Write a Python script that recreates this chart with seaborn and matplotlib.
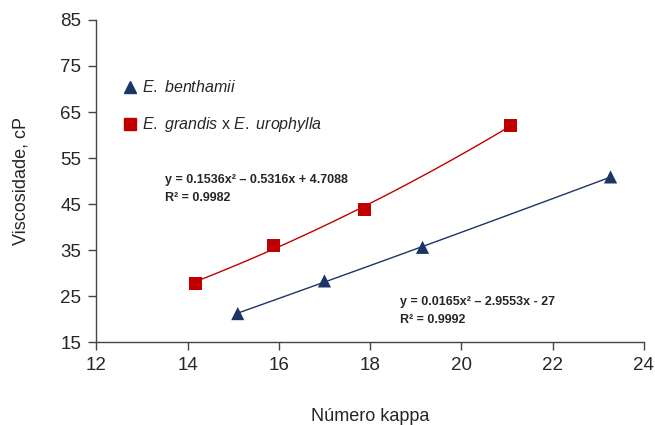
import numpy as np
import pandas as pd
import matplotlib
matplotlib.use('Agg')
import matplotlib.pyplot as plt
import seaborn as sns

# dados
kappa_benthamii = [15.1, 17.0, 19.15, 23.27]
visc_benthamii = [21.2, 28.3, 35.6, 50.9]
kappa_grandis = [14.17, 15.88, 17.87, 21.08]
visc_grandis = [27.8, 36.0, 43.9, 62.1]

eq_grandis = 'y = 0.1536x\u00b2 \u2013 0.5316x + 4.7088\nR\u00b2 = 0.9982'
eq_benthamii = 'y = 0.0165x\u00b2 \u2013 2.9553x - 27\nR\u00b2 = 0.9992'

x_ticks = [12, 14, 16, 18, 20, 22, 24]
y_ticks = [15, 25, 35, 45, 55, 65, 75, 85]

sns.set_style('ticks')
plt.rcParams['font.family'] = ['Liberation Sans', 'DejaVu Sans']
plt.rcParams['mathtext.fontset'] = 'custom'
plt.rcParams['mathtext.it'] = 'Liberation Sans:italic'
plt.rcParams['mathtext.rm'] = 'Liberation Sans'

azul = '#1b3566'
vermelho = '#c00000'

df = pd.concat([
    pd.DataFrame({'kappa': kappa_benthamii, 'visc': visc_benthamii, 'especie': 'benthamii'}),
    pd.DataFrame({'kappa': kappa_grandis, 'visc': visc_grandis, 'especie': 'grandis'}),
])

fig = plt.figure(figsize=(6.55, 4.25), dpi=100)
ax = fig.add_axes([0.147, 0.195, 0.836, 0.758])

# linhas de tendência polinomiais (ordem 2)
for xs, ys, cor in [(kappa_benthamii, visc_benthamii, azul), (kappa_grandis, visc_grandis, vermelho)]:
    coef = np.polyfit(xs, ys, 2)
    xx = np.linspace(min(xs), max(xs), 100)
    ax.plot(xx, np.polyval(coef, xx), color=cor, lw=1, zorder=1)

sns.scatterplot(data=df, x='kappa', y='visc', hue='especie', style='especie',
                markers={'benthamii': '^', 'grandis': 's'},
                palette={'benthamii': azul, 'grandis': vermelho},
                s=90, edgecolor='none', ax=ax, zorder=2, legend=False)

ax.set_xlim(12, 24)
ax.set_ylim(15, 85)
ax.set_xticks(x_ticks)
ax.set_yticks(y_ticks)
ax.tick_params(labelsize=13.5, length=6, width=1, color='#444444', direction='out', pad=5)
for s in ['left', 'bottom']:
    ax.spines[s].set_color('#444444')
    ax.spines[s].set_linewidth(1)
sns.despine(ax=ax)
ax.set_xlabel('Número kappa', fontsize=13, labelpad=24)
ax.set_ylabel('Viscosidade, cP', fontsize=13, labelpad=22)

# legenda
h1, = ax.plot([], [], '^', color=azul, ms=8, ls='none')
h2, = ax.plot([], [], 's', color=vermelho, ms=8, ls='none')
ax.legend([h1, h2], [r'$\it{E.}$ $\it{benthamii}$', r'$\it{E.}$ $\it{grandis}$ x $\it{E.}$ $\it{urophylla}$'],
          loc='upper left', bbox_to_anchor=(0.013, 0.86), frameon=False,
          fontsize=11.5, handletextpad=0.0, labelspacing=1.25, handlelength=1.5)

ax.text(13.5, 45.0, eq_grandis, fontsize=9, fontweight='bold', linespacing=1.7, va='bottom')
ax.text(18.65, 18.5, eq_benthamii, fontsize=9, fontweight='bold', linespacing=1.7, va='bottom')

fig.savefig('out.png', dpi=100)
